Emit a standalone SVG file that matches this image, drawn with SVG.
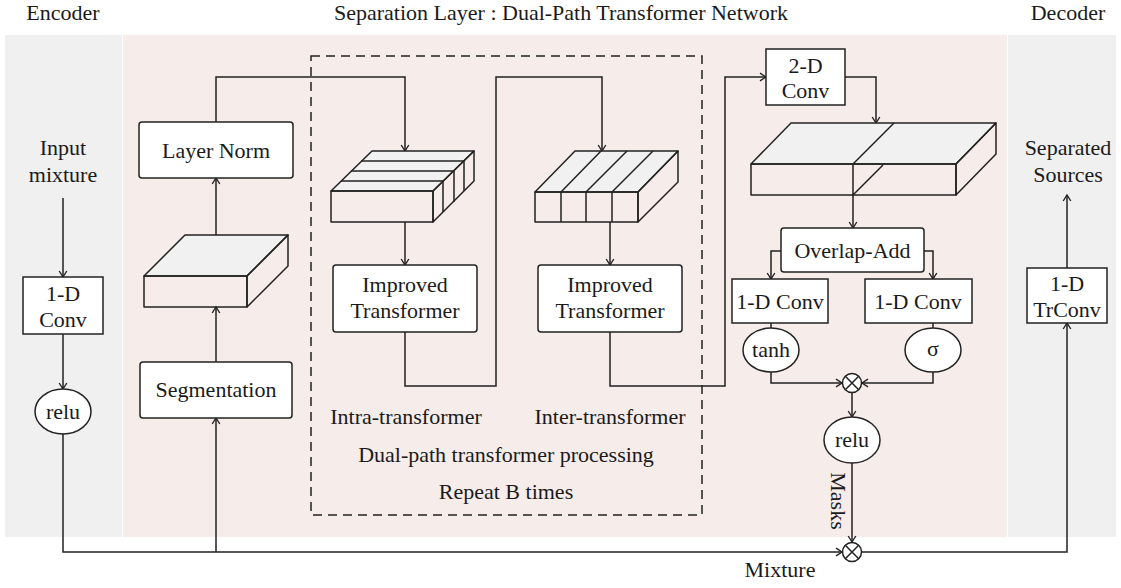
<svg xmlns="http://www.w3.org/2000/svg" width="1121" height="588" viewBox="0 0 1121 588">
<defs>
<style>
text{font-family:"Liberation Serif","Times New Roman",serif;font-size:22px;fill:#1a1a1a;text-anchor:middle}
.box{fill:#fff;stroke:#222;stroke-width:1.5}
.ln{fill:none;stroke:#222;stroke-width:1.5}
.top{fill:#f1f1f1;stroke:#222;stroke-width:1.5;stroke-linejoin:round}
.side{fill:none;stroke:#222;stroke-width:1.5;stroke-linejoin:round}
.dash{fill:none;stroke:#222;stroke-width:1.5;stroke-dasharray:9 6}
</style>
<marker id="ah" viewBox="-8 -5 10 10" refX="0" refY="0" markerWidth="10" markerHeight="10" markerUnits="userSpaceOnUse" orient="auto">
<path d="M-6,-3.8 L0,0 L-6,3.8" fill="none" stroke="#222" stroke-width="1.4"/>
</marker>
</defs>

<!-- panels -->
<rect x="5" y="35" width="117" height="502" fill="#f0f0f0"/>
<rect x="123" y="35" width="884" height="502" fill="#f6ecea"/>
<rect x="1008" y="35" width="108" height="502" fill="#f0f0f0"/>

<text x="63" y="20">Encoder</text>
<text x="561" y="20">Separation Layer : Dual-Path Transformer Network</text>
<text x="1068" y="20">Decoder</text>

<rect class="dash" x="311" y="56" width="391" height="459"/>

<g id="connectors">
<path class="ln" d="M63,198 V277" marker-end="url(#ah)"/>
<path class="ln" d="M63,334 V389" marker-end="url(#ah)"/>
<path class="ln" d="M63,434 V552 H842" marker-end="url(#ah)"/>
<path class="ln" d="M216,552 V418" marker-end="url(#ah)"/>
<path class="ln" d="M216,362 V307" marker-end="url(#ah)"/>
<path class="ln" d="M216,235 V178" marker-end="url(#ah)"/>
<path class="ln" d="M216,122 V77 H405 V151" marker-end="url(#ah)"/>
<path class="ln" d="M405,222 V265" marker-end="url(#ah)"/>
<path class="ln" d="M405,332 V386 H496 V77 H602 V151" marker-end="url(#ah)"/>
<path class="ln" d="M610,222 V265" marker-end="url(#ah)"/>
<path class="ln" d="M610,332 V386 H725 V77 H766" marker-end="url(#ah)"/>
<path class="ln" d="M845,77 H876 V123" marker-end="url(#ah)"/>
<path class="ln" d="M853,195 V228" marker-end="url(#ah)"/>
<path class="ln" d="M781,251 H771 V279" marker-end="url(#ah)"/>
<path class="ln" d="M924,251 H933 V279" marker-end="url(#ah)"/>
<path class="ln" d="M771,323 V328"/>
<path class="ln" d="M933,323 V328"/>
<path class="ln" d="M771,372 V383 H842" marker-end="url(#ah)"/>
<path class="ln" d="M933,372 V383 H862" marker-end="url(#ah)"/>
<path class="ln" d="M852,393 V417" marker-end="url(#ah)"/>
<path class="ln" d="M852,463 V542" marker-end="url(#ah)"/>
<path class="ln" d="M862,552 H1067 V323" marker-end="url(#ah)"/>
<path class="ln" d="M1067,268 V195" marker-end="url(#ah)"/>
</g>

<g id="input-label"><text x="63" y="155">Input</text><text x="63" y="182">mixture</text></g>

<g id="conv1d-enc">
<rect class="box" x="23" y="277" width="80" height="57"/>
<text x="63" y="301">1-D</text><text x="63" y="327">Conv</text>
</g>

<g id="relu-enc">
<ellipse class="box" cx="63" cy="411.5" rx="28" ry="22.5"/>
<text x="63" y="419">relu</text>
</g>

<g id="segmentation">
<rect class="box" x="140" y="362" width="152" height="56" rx="3"/>
<text x="216" y="397">Segmentation</text>
</g>

<g id="cube-seg">
<polygon class="top" points="144,276 185,235 288,235 247,276"/>
<rect class="side" x="144" y="276" width="103" height="31"/>
<polygon class="side" points="247,276 288,235 288,266 247,307"/>
</g>

<g id="layernorm">
<rect class="box" x="139" y="122" width="154" height="56" rx="3"/>
<text x="216" y="158">Layer Norm</text>
</g>

<g id="cube-intra">
<polygon class="top" points="331,191 372,151 474,151 433,191"/>
<rect class="side" x="331" y="191" width="102" height="31"/>
<polygon class="side" points="433,191 474,151 474,181 433,222"/>
<path class="ln" d="M361,161 H464 V191 M351,171 H454 V202 M341,181 H443 V212"/>
</g>

<g id="cube-inter">
<polygon class="top" points="535,192 575,151 678,151 638,192"/>
<rect class="side" x="535" y="192" width="103" height="30"/>
<polygon class="side" points="638,192 678,151 678,182 638,222"/>
<path class="ln" d="M561,222 V192 L601,151 M586,222 V192 L627,151 M612,222 V192 L653,151"/>
</g>

<g id="transformer-intra">
<rect class="box" x="333" y="265" width="144" height="67" rx="3"/>
<text x="405" y="292">Improved</text><text x="405" y="318">Transformer</text>
</g>

<g id="transformer-inter">
<rect class="box" x="538" y="265" width="144" height="67" rx="3"/>
<text x="610" y="292">Improved</text><text x="610" y="318">Transformer</text>
</g>

<text x="406" y="424">Intra-transformer</text>
<text x="610" y="424">Inter-transformer</text>
<text x="506" y="462">Dual-path transformer processing</text>
<text x="506" y="499">Repeat B times</text>

<g id="conv2d">
<rect class="box" x="766" y="49" width="79" height="56"/>
<text x="805.5" y="73">2-D</text><text x="805.5" y="98">Conv</text>
</g>

<g id="cube-big">
<polygon class="top" points="751,164 791,123 996,123 956,164"/>
<rect class="side" x="751" y="164" width="205" height="31"/>
<polygon class="side" points="956,164 996,123 996,154 956,195"/>
<path class="ln" d="M894,123 L853,164 V195 L883,165"/>
</g>

<g id="overlap-add">
<rect class="box" x="781" y="228" width="143" height="44" rx="3"/>
<text x="852.5" y="258">Overlap-Add</text>
</g>

<g id="conv1d-left">
<rect class="box" x="732" y="279" width="96" height="44"/>
<text x="780" y="309">1-D Conv</text>
</g>

<g id="conv1d-right">
<rect class="box" x="865" y="279" width="107" height="44"/>
<text x="918" y="309">1-D Conv</text>
</g>

<g id="tanh">
<ellipse class="box" cx="771" cy="350" rx="28" ry="22"/>
<text x="771" y="357">tanh</text>
</g>

<g id="sigma">
<ellipse class="box" cx="933" cy="350" rx="28" ry="22"/>
<text x="933" y="356">σ</text>
</g>

<g id="mult-gate">
<circle class="box" cx="852" cy="383" r="9.5"/>
<path class="ln" d="M845.3,376.3 L858.7,389.7 M858.7,376.3 L845.3,389.7"/>
</g>

<g id="relu-sep">
<ellipse class="box" cx="852" cy="440" rx="28" ry="23"/>
<text x="852" y="447">relu</text>
</g>

<text transform="translate(831,501) rotate(90)">Masks</text>

<g id="mult-mix">
<circle class="box" cx="852" cy="552" r="9.5"/>
<path class="ln" d="M845.3,545.3 L858.7,558.7 M858.7,545.3 L845.3,558.7"/>
</g>

<text x="780" y="577">Mixture</text>

<g id="trconv">
<rect class="box" x="1027" y="268" width="80" height="55"/>
<text x="1067" y="291">1-D</text><text x="1067" y="317">TrConv</text>
</g>

<g id="output-label"><text x="1068" y="155">Separated</text><text x="1068" y="182">Sources</text></g>
</svg>
